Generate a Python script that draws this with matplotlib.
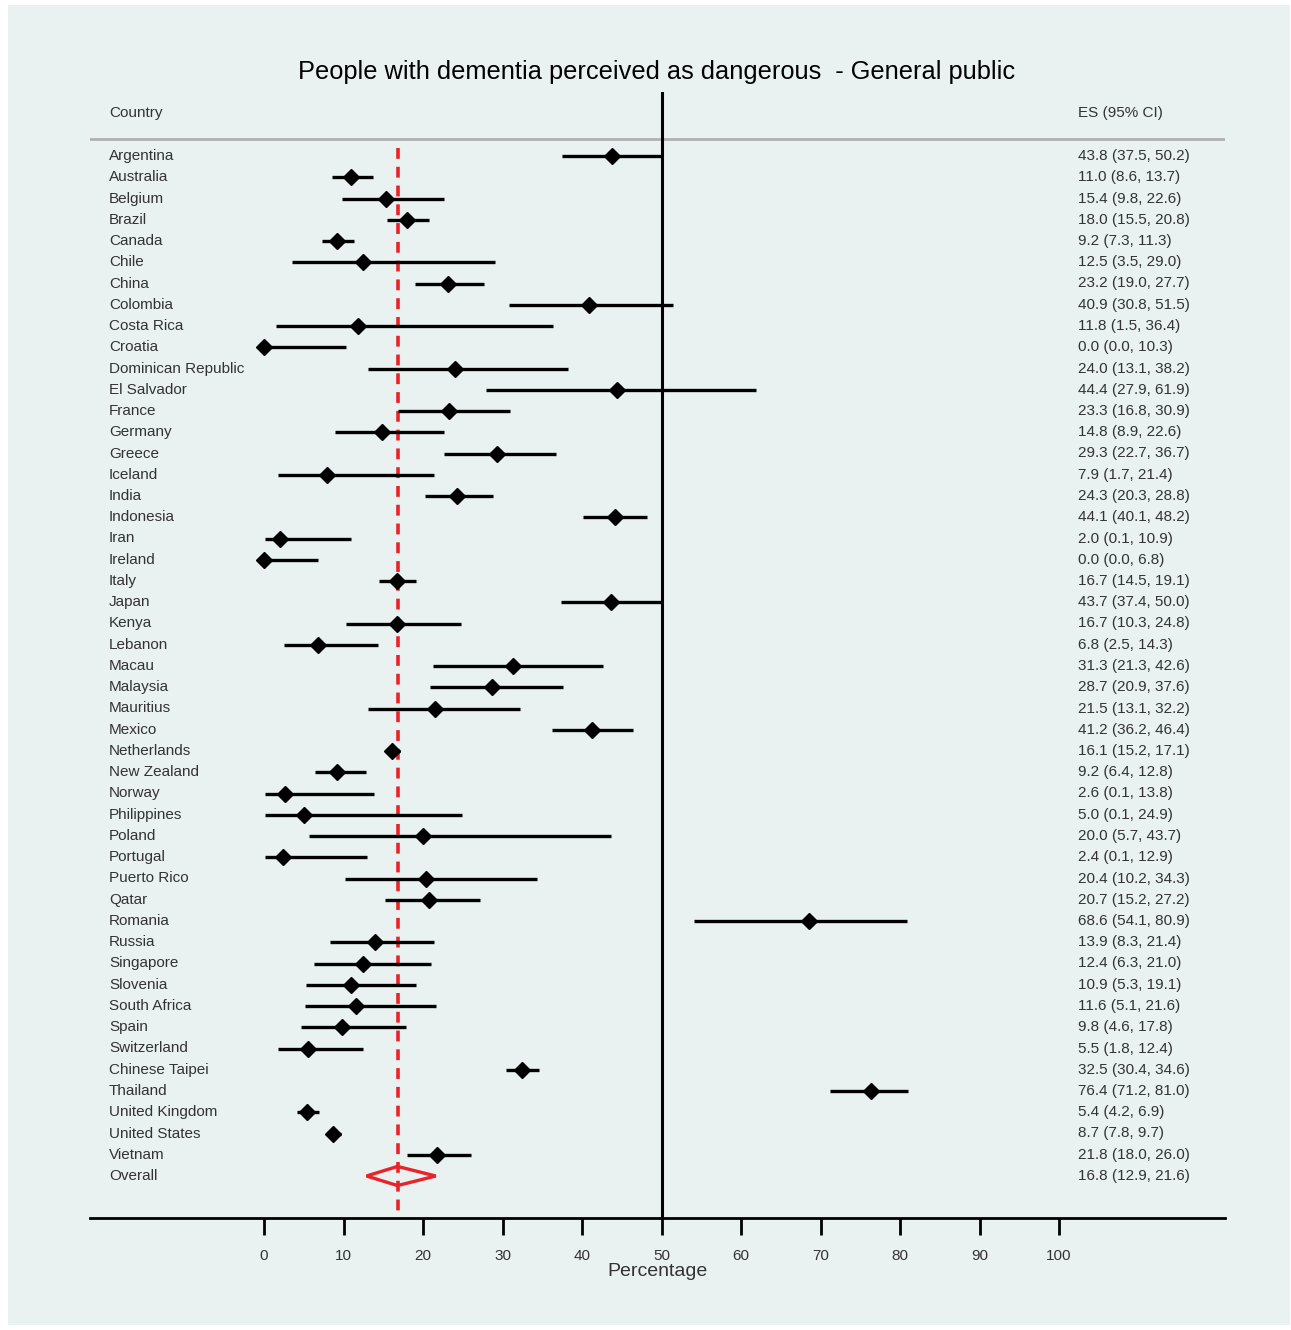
import matplotlib.pyplot as plt
from matplotlib.patches import Polygon, Rectangle

# dane
countries = ["Argentina", "Australia", "Belgium", "Brazil", "Canada", "Chile", "China",
             "Colombia", "Costa Rica", "Croatia", "Dominican Republic", "El Salvador",
             "France", "Germany", "Greece", "Iceland", "India", "Indonesia", "Iran",
             "Ireland", "Italy", "Japan", "Kenya", "Lebanon", "Macau", "Malaysia",
             "Mauritius", "Mexico", "Netherlands", "New Zealand", "Norway", "Philippines",
             "Poland", "Portugal", "Puerto Rico", "Qatar", "Romania", "Russia", "Singapore",
             "Slovenia", "South Africa", "Spain", "Switzerland", "Chinese Taipei",
             "Thailand", "United Kingdom", "United States", "Vietnam"]
es = [43.8, 11.0, 15.4, 18.0, 9.2, 12.5, 23.2, 40.9, 11.8, 0.0, 24.0, 44.4, 23.3, 14.8,
      29.3, 7.9, 24.3, 44.1, 2.0, 0.0, 16.7, 43.7, 16.7, 6.8, 31.3, 28.7, 21.5, 41.2,
      16.1, 9.2, 2.6, 5.0, 20.0, 2.4, 20.4, 20.7, 68.6, 13.9, 12.4, 10.9, 11.6, 9.8,
      5.5, 32.5, 76.4, 5.4, 8.7, 21.8]
lo = [37.5, 8.6, 9.8, 15.5, 7.3, 3.5, 19.0, 30.8, 1.5, 0.0, 13.1, 27.9, 16.8, 8.9,
      22.7, 1.7, 20.3, 40.1, 0.1, 0.0, 14.5, 37.4, 10.3, 2.5, 21.3, 20.9, 13.1, 36.2,
      15.2, 6.4, 0.1, 0.1, 5.7, 0.1, 10.2, 15.2, 54.1, 8.3, 6.3, 5.3, 5.1, 4.6,
      1.8, 30.4, 71.2, 4.2, 7.8, 18.0]
hi = [50.2, 13.7, 22.6, 20.8, 11.3, 29.0, 27.7, 51.5, 36.4, 10.3, 38.2, 61.9, 30.9, 22.6,
      36.7, 21.4, 28.8, 48.2, 10.9, 6.8, 19.1, 50.0, 24.8, 14.3, 42.6, 37.6, 32.2, 46.4,
      17.1, 12.8, 13.8, 24.9, 43.7, 12.9, 34.3, 27.2, 80.9, 21.4, 21.0, 19.1, 21.6, 17.8,
      12.4, 34.6, 81.0, 6.9, 9.7, 26.0]
overall = (16.8, 12.9, 21.6)
ticks = [0, 10, 20, 30, 40, 50, 60, 70, 80, 90, 100]

plt.rcParams['font.family'] = ['Liberation Sans', 'DejaVu Sans']
txt = '#333333'
bg = '#e9f1f1'

W, H = 1291, 1330
fig = plt.figure(figsize=(W / 100, H / 100), dpi=100, facecolor='white')
fig.patches.append(Rectangle((8 / W, 5 / H), 1282 / W, 1320 / H, transform=fig.transFigure,
                             facecolor=bg, edgecolor='none', zorder=-10))

ax = fig.add_axes([90 / W, (H - 1218) / H, (1225 - 90) / W, (1218 - 92) / H])
ax.set_facecolor(bg)
ax.patch.set_alpha(0)

x0, px = 264, 7.95          # piksel zera i piksele na jednostke
ax.set_xlim((90 - x0) / px, (1225 - x0) / px)
n = len(countries)
y0, dy = 156, (1176 - 156) / n
ax.set_ylim((1218 - y0) / dy, (92 - y0) / dy)

xl = (109 - x0) / px
xr = (1078 - x0) / px
for i in range(n):
    ax.plot([lo[i], hi[i]], [i, i], color='black', lw=2.4, solid_capstyle='butt', zorder=3)
    ax.plot(es[i], i, 'D', color='black', ms=8, zorder=4)
    ax.text(xl, i, countries[i], ha='left', va='center', fontsize=11, color=txt)
    ax.text(xr, i, f"{es[i]:.1f} ({lo[i]:.1f}, {hi[i]:.1f})", ha='left', va='center',
            fontsize=11, color=txt)

# overall
e, l, h = overall
yo = n
ax.add_patch(Polygon([[l, yo], [e, yo - 0.45], [h, yo], [e, yo + 0.45]], closed=True,
                     fill=False, edgecolor='#e8242a', lw=2.4, zorder=4))
ax.text(xl, yo, "Overall", ha='left', va='center', fontsize=11, color=txt)
ax.text(xr, yo, f"{e:.1f} ({l:.1f}, {h:.1f})", ha='left', va='center', fontsize=11, color=txt)

# linie pomocnicze
ax.axvline(50, color='black', lw=2.2, zorder=2)
ax.plot([e, e], [(148 - y0) / dy, (1218 - y0) / dy], color='#e8242a', lw=2.6,
        ls=(0, (3, 2.2)), zorder=2)
ax.axhline((139 - y0) / dy, color='#b0b0b0', lw=2, zorder=1)

ax.text(xl, (113 - y0) / dy, "Country", ha='left', va='center', fontsize=11, color=txt)
ax.text(xr, (113 - y0) / dy, "ES (95% CI)", ha='left', va='center', fontsize=11, color=txt)

for s in ['top', 'left', 'right']:
    ax.spines[s].set_visible(False)
ax.spines['bottom'].set_linewidth(2)
ax.set_yticks([])
ax.set_xticks(ticks)
ax.tick_params(axis='x', length=12, width=2, pad=10, labelsize=11, labelcolor=txt)
ax.set_xlabel('Percentage', fontsize=14, color=txt, labelpad=0)

fig.text(657 / W, 1 - 72 / H, "People with dementia perceived as dangerous  - General public",
         ha='center', va='center', fontsize=18.3, color='black')

fig.savefig('out.png', dpi=100, facecolor='white')
